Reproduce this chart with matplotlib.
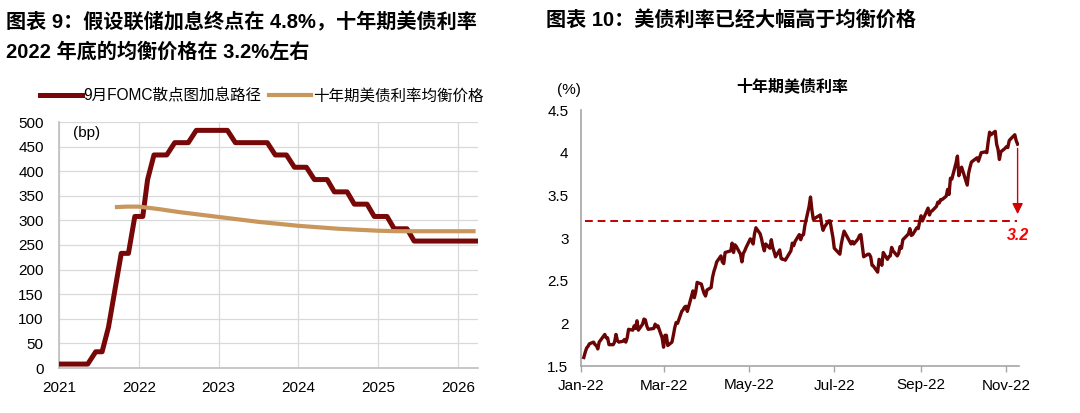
import matplotlib
matplotlib.use('Agg')
import matplotlib.pyplot as plt
import matplotlib.dates as mdates
import pandas as pd
from matplotlib.lines import Line2D

plt.rcParams['font.family'] = ['Liberation Sans', 'Noto Sans CJK SC']
plt.rcParams['axes.unicode_minus'] = False

# ---------------- data: left chart ----------------
fomc_x = [2021.00, 2021.36, 2021.46, 2021.54, 2021.62, 2021.78, 2021.87, 2021.95,
          2022.05, 2022.11, 2022.19, 2022.35, 2022.45, 2022.62, 2022.72, 2023.11,
          2023.21, 2023.61, 2023.71, 2023.85, 2023.95, 2024.10, 2024.20, 2024.36,
          2024.45, 2024.61, 2024.70, 2024.86, 2024.95, 2025.11, 2025.20, 2025.36,
          2025.45, 2026.22]
fomc_y = [8, 8, 33, 33, 83, 233, 233, 308,
          308, 383, 433, 433, 458, 458, 483, 483,
          458, 458, 433, 433, 408, 408, 383, 383,
          358, 358, 333, 333, 308, 308, 283, 283,
          258, 258]
eq_x = [2021.70, 2021.85, 2022.00, 2022.25, 2022.50, 2022.75, 2023.00, 2023.25,
        2023.50, 2023.75, 2024.00, 2024.25, 2024.50, 2024.75, 2025.00, 2025.25,
        2025.50, 2026.22]
eq_y = [327, 328, 328, 323, 317, 312, 307, 302,
        297, 293, 289, 286, 283, 281, 279, 278,
        278, 278]
year_ticks = [2021, 2022, 2023, 2024, 2025, 2026]
bp_ticks = [0, 50, 100, 150, 200, 250, 300, 350, 400, 450, 500]
legend_labels = ['9月FOMC散点图加息路径', '十年期美债利率均衡价格']

# ---------------- data: right chart (10Y UST yield, %) ----------------
dates_10y = [
    # Jan
    '2022-01-03', '2022-01-04', '2022-01-05', '2022-01-06', '2022-01-07', '2022-01-10', '2022-01-11',
    '2022-01-12', '2022-01-13', '2022-01-14', '2022-01-18', '2022-01-19', '2022-01-20', '2022-01-21',
    '2022-01-24', '2022-01-25', '2022-01-26', '2022-01-27', '2022-01-28', '2022-01-31',
    # Feb
    '2022-02-01', '2022-02-02', '2022-02-03', '2022-02-04', '2022-02-07', '2022-02-08', '2022-02-09',
    '2022-02-10', '2022-02-11', '2022-02-14', '2022-02-15', '2022-02-16', '2022-02-17', '2022-02-18',
    '2022-02-22', '2022-02-23', '2022-02-24', '2022-02-25', '2022-02-28',
    # Mar
    '2022-03-01', '2022-03-02', '2022-03-03', '2022-03-04', '2022-03-07', '2022-03-08', '2022-03-09',
    '2022-03-10', '2022-03-11', '2022-03-14', '2022-03-15', '2022-03-16', '2022-03-17', '2022-03-18',
    '2022-03-21', '2022-03-22', '2022-03-23', '2022-03-24', '2022-03-25', '2022-03-28', '2022-03-29',
    '2022-03-30', '2022-03-31',
    # Apr
    '2022-04-01', '2022-04-04', '2022-04-05', '2022-04-06', '2022-04-07', '2022-04-08', '2022-04-11',
    '2022-04-12', '2022-04-13', '2022-04-14', '2022-04-18', '2022-04-19', '2022-04-20', '2022-04-21',
    '2022-04-22', '2022-04-25', '2022-04-26', '2022-04-27', '2022-04-28', '2022-04-29',
    # May
    '2022-05-02', '2022-05-03', '2022-05-04', '2022-05-05', '2022-05-06', '2022-05-09', '2022-05-10',
    '2022-05-11', '2022-05-12', '2022-05-13', '2022-05-16', '2022-05-17', '2022-05-18', '2022-05-19',
    '2022-05-20', '2022-05-23', '2022-05-24', '2022-05-25', '2022-05-26', '2022-05-27', '2022-05-31',
    # Jun
    '2022-06-01', '2022-06-02', '2022-06-03', '2022-06-06', '2022-06-07', '2022-06-08', '2022-06-09',
    '2022-06-10', '2022-06-13', '2022-06-14', '2022-06-15', '2022-06-16', '2022-06-17', '2022-06-21',
    '2022-06-22', '2022-06-23', '2022-06-24', '2022-06-27', '2022-06-28', '2022-06-29', '2022-06-30',
    # Jul
    '2022-07-01', '2022-07-05', '2022-07-06', '2022-07-07', '2022-07-08', '2022-07-11', '2022-07-12',
    '2022-07-13', '2022-07-14', '2022-07-15', '2022-07-18', '2022-07-19', '2022-07-20', '2022-07-21',
    '2022-07-22', '2022-07-25', '2022-07-26', '2022-07-27', '2022-07-28', '2022-07-29',
    # Aug
    '2022-08-01', '2022-08-02', '2022-08-03', '2022-08-04', '2022-08-05', '2022-08-08', '2022-08-09',
    '2022-08-10', '2022-08-11', '2022-08-12', '2022-08-15', '2022-08-16', '2022-08-17', '2022-08-18',
    '2022-08-19', '2022-08-22', '2022-08-23', '2022-08-24', '2022-08-25', '2022-08-26', '2022-08-29',
    '2022-08-30', '2022-08-31',
    # Sep
    '2022-09-01', '2022-09-02', '2022-09-06', '2022-09-07', '2022-09-08', '2022-09-09', '2022-09-12',
    '2022-09-13', '2022-09-14', '2022-09-15', '2022-09-16', '2022-09-19', '2022-09-20', '2022-09-21',
    '2022-09-22', '2022-09-23', '2022-09-26', '2022-09-27', '2022-09-28', '2022-09-29', '2022-09-30',
    # Oct
    '2022-10-03', '2022-10-04', '2022-10-05', '2022-10-06', '2022-10-07', '2022-10-11', '2022-10-12',
    '2022-10-13', '2022-10-14', '2022-10-17', '2022-10-18', '2022-10-19', '2022-10-20', '2022-10-21',
    '2022-10-24', '2022-10-25', '2022-10-26', '2022-10-27', '2022-10-28', '2022-10-31',
    # Nov
    '2022-11-01', '2022-11-02', '2022-11-03', '2022-11-04', '2022-11-07', '2022-11-08', '2022-11-09',
]
yield_10y = [
    # Jan
    1.60, 1.66, 1.71, 1.73, 1.76, 1.78, 1.75,
    1.74, 1.70, 1.78, 1.87, 1.83, 1.83, 1.75,
    1.75, 1.78, 1.87, 1.80, 1.78, 1.79,
    # Feb
    1.81, 1.78, 1.83, 1.93, 1.92, 1.97, 1.94,
    2.03, 1.92, 1.99, 2.05, 2.04, 1.97, 1.93,
    1.94, 1.99, 1.96, 1.97, 1.83,
    # Mar
    1.72, 1.86, 1.86, 1.74, 1.78, 1.86, 1.95,
    2.01, 2.00, 2.14, 2.16, 2.19, 2.20, 2.14,
    2.32, 2.38, 2.30, 2.37, 2.48, 2.46, 2.40,
    2.35, 2.32,
    # Apr
    2.39, 2.42, 2.54, 2.61, 2.66, 2.72, 2.79,
    2.72, 2.70, 2.83, 2.85, 2.94, 2.83, 2.92,
    2.90, 2.81, 2.72, 2.82, 2.85, 2.89,
    # May
    2.99, 2.97, 2.93, 3.05, 3.12, 3.05, 2.99,
    2.91, 2.85, 2.93, 2.88, 2.98, 2.89, 2.84,
    2.78, 2.86, 2.76, 2.75, 2.75, 2.74, 2.85,
    # Jun
    2.94, 2.91, 2.96, 3.04, 2.98, 3.03, 3.04,
    3.15, 3.37, 3.48, 3.33, 3.22, 3.23, 3.27,
    3.16, 3.09, 3.13, 3.20, 3.20, 3.10, 3.01,
    # Jul
    2.88, 2.81, 2.93, 3.01, 3.08, 2.99, 2.96,
    2.93, 2.96, 2.93, 2.99, 3.03, 3.04, 2.91,
    2.78, 2.81, 2.81, 2.78, 2.68, 2.67,
    # Aug
    2.60, 2.75, 2.73, 2.68, 2.83, 2.75, 2.78,
    2.79, 2.89, 2.85, 2.79, 2.82, 2.90, 2.88,
    2.98, 3.03, 3.05, 3.11, 3.03, 3.04, 3.12,
    3.11, 3.19,
    # Sep
    3.26, 3.20, 3.35, 3.27, 3.31, 3.32, 3.37,
    3.42, 3.41, 3.45, 3.45, 3.49, 3.57, 3.51,
    3.70, 3.69, 3.88, 3.96, 3.73, 3.79, 3.83,
    # Oct
    3.67, 3.62, 3.76, 3.83, 3.89, 3.94, 3.90,
    3.95, 4.00, 4.01, 4.00, 4.13, 4.24, 4.21,
    4.25, 4.10, 4.04, 3.92, 4.01, 4.05,
    # Nov
    4.07, 4.06, 4.14, 4.16, 4.21, 4.14, 4.10,
]
equilibrium_level = 3.2
month_ticks = ['2022-01-01', '2022-03-01', '2022-05-01', '2022-07-01', '2022-09-01', '2022-11-01']
pct_ticks = [1.5, 2, 2.5, 3, 3.5, 4, 4.5]

# ---------------- figure ----------------
W, H = 1080, 413
fig = plt.figure(figsize=(W / 100, H / 100), dpi=100)
fig.patch.set_facecolor('white')

FOMC_C = '#780808'
EQ_C = '#C9975C'
LINE_C = '#6B0505'
SPINE_C = '#BFBFBF'
GRID_C = '#D9D9D9'

# titles
fig.text(6 / W, 1 - 22 / H, '图表 9：假设联储加息终点在 4.8%，十年期美债利率',
         fontsize=14.5, fontweight='bold', va='center', ha='left')
fig.text(6 / W, 1 - 52 / H, '2022 年底的均衡价格在 3.2%左右',
         fontsize=14.5, fontweight='bold', va='center', ha='left')
fig.text(546 / W, 1 - 20 / H, '图表 10：美债利率已经大幅高于均衡价格',
         fontsize=14.5, fontweight='bold', va='center', ha='left')

# ---------------- left axes ----------------
ax1 = fig.add_axes([59 / W, 1 - 368 / H, (478 - 59) / W, (368 - 122) / H])
ax1.plot(fomc_x, fomc_y, color=FOMC_C, lw=3.6, solid_joinstyle='round', zorder=3)
ax1.plot(eq_x, eq_y, color=EQ_C, lw=3.0, solid_capstyle='butt', zorder=3)
ax1.set_xlim(2021, 2026.25)
ax1.set_ylim(0, 500)
ax1.set_xticks(year_ticks)
ax1.set_xticklabels([str(y) for y in year_ticks])
ax1.set_yticks(bp_ticks)
ax1.grid(True, color=GRID_C, lw=0.9, zorder=0)
ax1.set_axisbelow(True)
for s in ['top', 'right']:
    ax1.spines[s].set_visible(False)
for s in ['left', 'bottom']:
    ax1.spines[s].set_color(SPINE_C)
    ax1.spines[s].set_linewidth(1.2)
ax1.tick_params(axis='both', length=0, labelsize=11, colors='#000000')
ax1.tick_params(axis='x', pad=9)
ax1.tick_params(axis='y', pad=11)
ax1.text(0.033, 0.985, '(bp)', transform=ax1.transAxes, fontsize=11, va='top', ha='left')

handles = [Line2D([0], [0], color=FOMC_C, lw=3.6), Line2D([0], [0], color=EQ_C, lw=3.0)]
fig.legend(handles, legend_labels, loc='center left', bbox_to_anchor=(40 / W, 1 - 96 / H),
           ncol=2, frameon=False, fontsize=11.2, handlelength=2.7, handletextpad=0.1,
           columnspacing=0.5, borderpad=0, borderaxespad=0)

# ---------------- right axes ----------------
ax2 = fig.add_axes([581 / W, 1 - 366 / H, (1019 - 581) / W, (366 - 110) / H])
d10 = pd.to_datetime(dates_10y)
ax2.plot(d10, yield_10y, color=LINE_C, lw=2.4, solid_joinstyle='round', zorder=3)
ax2.set_xlim(pd.Timestamp('2022-01-01'), pd.Timestamp('2022-11-10'))
ax2.set_ylim(1.5, 4.5)
ax2.set_xticks(pd.to_datetime(month_ticks))
ax2.xaxis.set_major_formatter(mdates.DateFormatter('%b-%y'))
ax2.set_yticks(pct_ticks)
ax2.set_yticklabels(['%g' % v for v in pct_ticks])
for s in ['top', 'right']:
    ax2.spines[s].set_visible(False)
for s in ['left', 'bottom']:
    ax2.spines[s].set_color('#A6A6A6')
    ax2.spines[s].set_linewidth(1.2)
ax2.tick_params(axis='y', length=0, pad=9, labelsize=11)
ax2.tick_params(axis='x', length=4, width=1, color='#A6A6A6', direction='out', pad=5, labelsize=11)

ax2.axhline(equilibrium_level, xmin=0.008, xmax=0.995, color='#C00000', lw=1.4,
            ls=(0, (4, 2.5)), zorder=2)
x_end = d10[-1]
ax2.annotate('', xy=(x_end, equilibrium_level + 0.08), xytext=(x_end, yield_10y[-1] - 0.05),
             arrowprops=dict(arrowstyle='-|>', color='#D00000', lw=1.0,
                             mutation_scale=16, shrinkA=0, shrinkB=0))
ax2.text(x_end, equilibrium_level - 0.17, '3.2', color='#FF0000', fontsize=11.5,
         fontweight='bold', fontstyle='italic', ha='center', va='center')

fig.text(792 / W, 1 - 86 / H, '十年期美债利率', fontsize=11.5, fontweight='bold',
         ha='center', va='center')
fig.text(569 / W, 1 - 90 / H, '(%)', fontsize=11, ha='center', va='center')

fig.savefig('out.png', dpi=100, facecolor='white')
